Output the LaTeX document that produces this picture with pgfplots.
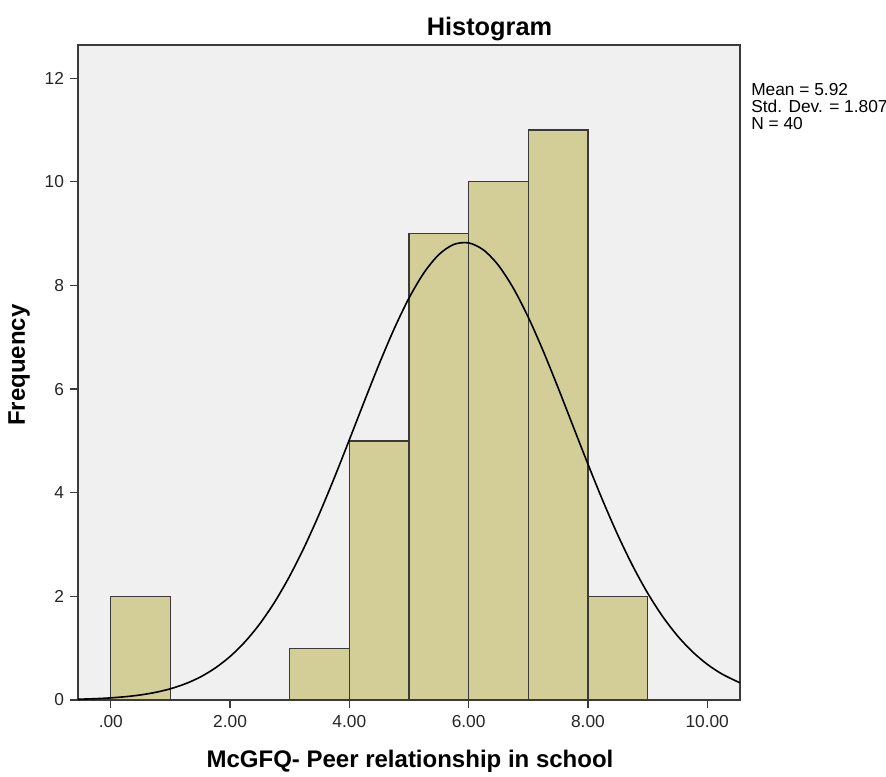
\documentclass[border=0pt]{standalone}
\usepackage{fontspec}
\setmainfont{Liberation Sans}
\usepackage{pgfplots}
\pgfplotsset{compat=1.18}
\definecolor{barfill}{HTML}{D3CE98}
\definecolor{bgfill}{HTML}{F0F0F0}
\definecolor{framec}{HTML}{3A3A3A}
\begin{document}
\begin{tikzpicture}
\path[use as bounding box] (-58.5pt,-57pt) rectangle (606pt,525pt);
\begin{axis}[
  at={(0,0)}, anchor=south west,
  width=496.5pt, height=491.25pt, scale only axis,
  xmin=-0.55, xmax=10.55, ymin=0, ymax=12.64,
  axis background/.style={fill=bgfill},
  axis line style={draw=framec, line width=1pt},
  xtick={0,2,4,6,8,10},
  xticklabels={.00,2.00,4.00,6.00,8.00,10.00},
  ytick={0,2,4,6,8,10,12},
  yticklabels={0,2,4,6,8,10,12},
  xtick pos=bottom, ytick pos=left,
  tick align=outside,
  major tick length=6pt,
  tick style={draw=framec, line width=0.9pt},
  ticklabel style={font=\fontsize{13}{15}\selectfont, text=black!85},
  xticklabel style={yshift=-2pt},
  yticklabel style={xshift=-1pt},
  title={Histogram},
  title style={at={(axis description cs:0.6216,1.003)}, anchor=base, font=\bfseries\fontsize{19}{22}\selectfont},
  xlabel={McGFQ- Peer relationship in school},
  xlabel style={at={(axis description cs:0.5015,-0.1023)}, anchor=base, font=\bfseries\fontsize{18}{21}\selectfont},
  ylabel={Frequency},
  ylabel style={at={(axis description cs:-0.0891,0.511)}, anchor=center, rotate=0, font=\bfseries\fontsize{18}{21}\selectfont},
  clip=false,
]
\addplot[ybar interval, fill=barfill, draw=framec, line width=0.9pt]
  coordinates {(0,2) (1,0) (2,0) (3,1) (4,5) (5,9) (6,10) (7,11) (8,2) (9,2)};
\addplot[smooth, black, line width=1.2pt, mark=none] coordinates {
(-0.55,0.0145) (-0.25,0.0260) (0,0.0412) (0.25,0.0643) (0.5,0.0983) (0.75,0.1474)
(1,0.2168) (1.25,0.3130) (1.5,0.443) (1.75,0.6160) (2,0.840) (2.25,1.1228)
(2.5,1.473) (2.75,1.8951) (3,2.393) (3.25,2.964) (3.5,3.602) (3.75,4.294)
(4,5.022) (4.25,5.761) (4.5,6.484) (4.75,7.160) (5,7.756) (5.25,8.243)
(5.5,8.595) (5.75,8.791) (6,8.821) (6.25,8.684) (6.5,8.387) (6.75,7.946)
(7,7.386) (7.25,6.735) (7.5,6.025) (7.75,5.287) (8,4.553) (8.25,3.845)
(8.5,3.186) (8.75,2.590) (9,2.066) (9.25,1.616) (9.5,1.241) (9.75,0.9344)
(10,0.690) (10.25,0.5001) (10.55,0.331)};
\node[anchor=north west, inner sep=0pt, align=left, font=\fontsize{13}{12.75}\selectfont]
  at (rel axis cs:1.0166,0.942) {Mean = 5.92\\Std. Dev. = 1.807\\N = 40};
\end{axis}
\end{tikzpicture}
\end{document}
